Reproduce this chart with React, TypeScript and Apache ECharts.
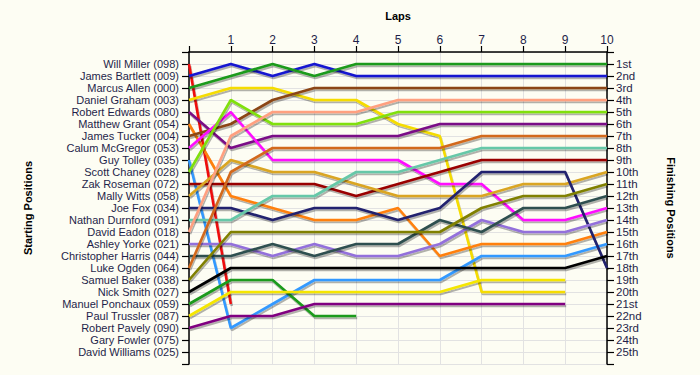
import React, { useEffect, useRef } from "react";
import * as echarts from "echarts";

const drivers = [
  "Will Miller (098)", "James Bartlett (009)", "Marcus Allen (000)", "Daniel Graham (003)",
  "Robert Edwards (080)", "Matthew Grant (054)", "James Tucker (004)", "Calum McGregor (053)",
  "Guy Tolley (035)", "Scott Chaney (028)", "Zak Roseman (072)", "Mally Witts (058)",
  "Joe Fox (034)", "Nathan Durnford (091)", "David Eadon (018)", "Ashley Yorke (021)",
  "Christopher Harris (044)", "Luke Ogden (064)", "Samuel Baker (038)", "Nick Smith (027)",
  "Manuel Ponchaux (059)", "Paul Trussler (087)", "Robert Pavely (090)", "Gary Fowler (075)",
  "David Williams (025)",
];

const finishLabels = [
  "1st", "2nd", "3rd", "4th", "5th", "6th", "7th", "8th", "9th", "10th",
  "11th", "12th", "13th", "14th", "15th", "16th", "17th", "18th", "19th", "20th",
  "21st", "22nd", "23rd", "24th", "25th",
];

const lapLabels = ["", "1", "2", "3", "4", "5", "6", "7", "8", "9", "10"];

// position of each driver at lap 0..n (index = lap)
const positions: number[][] = [
  [1, 21],
  [2, 1, 2, 1, 2, 2, 2, 2, 2, 2, 2],
  [3, 2, 1, 2, 1, 1, 1, 1, 1, 1, 1],
  [4, 3, 3, 4, 4, 6, 7, 20, 20, 20],
  [5, 8, 7, 7, 7, 7, 6, 6, 6, 6, 6],
  [6, 12, 13, 14, 14, 13, 17, 16, 16, 16, 15],
  [7, 6, 4, 3, 3, 3, 3, 3, 3, 3, 3],
  [8, 5, 9, 9, 9, 9, 11, 11, 14, 14, 13],
  [9, 23, 21, 19, 19, 19, 19, 17, 17, 17, 16],
  [10, 4, 6, 6, 6, 5, 5, 5, 5, 5, 5],
  [11, 11, 11, 11, 12, 11, 10, 9, 9, 9, 9],
  [12, 9, 10, 10, 11, 12, 12, 12, 11, 11, 10],
  [13, 13, 14, 13, 13, 14, 13, 10, 10, 10, 18],
  [14, 14, 12, 12, 10, 10, 9, 8, 8, 8, 8],
  [15, 7, 5, 5, 5, 4, 4, 4, 4, 4, 4],
  [16, 16, 17, 16, 17, 17, 16, 14, 15, 15, 14],
  [17, 17, 16, 17, 16, 16, 14, 15, 13, 13, 12],
  [18, 10, 8, 8, 8, 8, 8, 7, 7, 7, 7],
  [19, 15, 15, 15, 15, 15, 15, 13, 12, 12, 11],
  [20, 18, 18, 18, 18, 18, 18, 18, 18, 18, 17],
  [21, 19, 19, 22, 22],
  [22, 20, 20, 20, 20, 20, 20, 19, 19, 19],
  [23, 22, 22, 21, 21, 21, 21, 21, 21, 21],
  [],
  [],
];

const colors = [
  "#ee1111", "#1515d0", "#1a9a1a", "#f5dc00", "#7a0a86", "#ff8010", "#8b4513", "#ff10ff",
  "#3399ff", "#80e010", "#990000", "#daa520", "#20206e", "#66c8a8", "#ffa080", "#9370db",
  "#2f4f4f", "#d2691e", "#808000", "#000000", "#1a9a1a", "#f5e600", "#800080", "#888888",
  "#888888",
];

const FONT = "'Liberation Sans', Arial, sans-serif";
const TXT = "#1f1f4a";

export default function App() {
  const ref = useRef<HTMLDivElement>(null);
  useEffect(() => {
    document.body.style.margin = "0";
    const chart = echarts.init(ref.current!, null, { renderer: "svg" });
    const series = positions
      .map((p, i) => ({
        name: drivers[i],
        type: "line",
        data: p.map((v, lap) => [lap, v]),
        symbol: "none",
        lineStyle: {
          color: colors[i],
          width: 2.6,
          shadowColor: "rgba(0,0,0,0.3)",
          shadowBlur: 1.5,
          shadowOffsetX: 1,
          shadowOffsetY: 2,
        },
        itemStyle: { color: colors[i] },
        z: 2,
      }))
      .filter((s) => s.data.length > 0);

    const yBase = {
      type: "value",
      min: 0,
      max: 26,
      interval: 1,
      inverse: true,
      axisLine: { show: true, lineStyle: { color: "#000", width: 1.5 } },
      axisTick: { show: true, length: 7, lineStyle: { color: "#000", width: 1.2 } },
      nameLocation: "middle",
      nameTextStyle: { fontFamily: FONT, fontSize: 11, fontWeight: "bold", color: "#000" },
    };

    chart.setOption({
      animation: false,
      backgroundColor: "#fdfdf3",
      grid: { left: 189, right: 93, top: 52, bottom: 11 },
      xAxis: {
        type: "value",
        position: "top",
        min: 0,
        max: 10,
        interval: 1,
        name: "Laps",
        nameLocation: "middle",
        nameGap: 31,
        nameTextStyle: { fontFamily: FONT, fontSize: 11, fontWeight: "bold", color: "#000" },
        axisLine: { show: true, lineStyle: { color: "#000", width: 1.5 } },
        axisTick: { show: true, length: 6, lineStyle: { color: "#000", width: 1.2 } },
        axisLabel: {
          formatter: (v: number) => lapLabels[v] ?? "",
          fontFamily: FONT,
          fontSize: 12,
          color: TXT,
          margin: 6,
        },
        splitLine: { show: true, lineStyle: { color: "#e2e2e2", width: 1 } },
      },
      yAxis: [
        {
          ...yBase,
          position: "left",
          name: "Starting Positions",
          nameRotate: 90,
          nameGap: 156,
          axisLabel: {
            formatter: (v: number) => drivers[v - 1] ?? "",
            fontFamily: FONT,
            fontSize: 11,
            lineHeight: 11,
            color: TXT,
            margin: 10,
          },
          splitLine: { show: true, lineStyle: { color: "#e2e2e2", width: 1 } },
        },
        {
          ...yBase,
          position: "right",
          name: "Finishing Positions",
          nameRotate: -90,
          nameGap: 58,
          axisLabel: {
            formatter: (v: number) => finishLabels[v - 1] ?? "",
            fontFamily: FONT,
            fontSize: 11.5,
            lineHeight: 11,
            color: TXT,
            margin: 9,
          },
          splitLine: { show: false },
        },
      ],
      series,
    });
    return () => chart.dispose();
  }, []);
  return <div ref={ref} style={{ width: 700, height: 375 }} />;
}
